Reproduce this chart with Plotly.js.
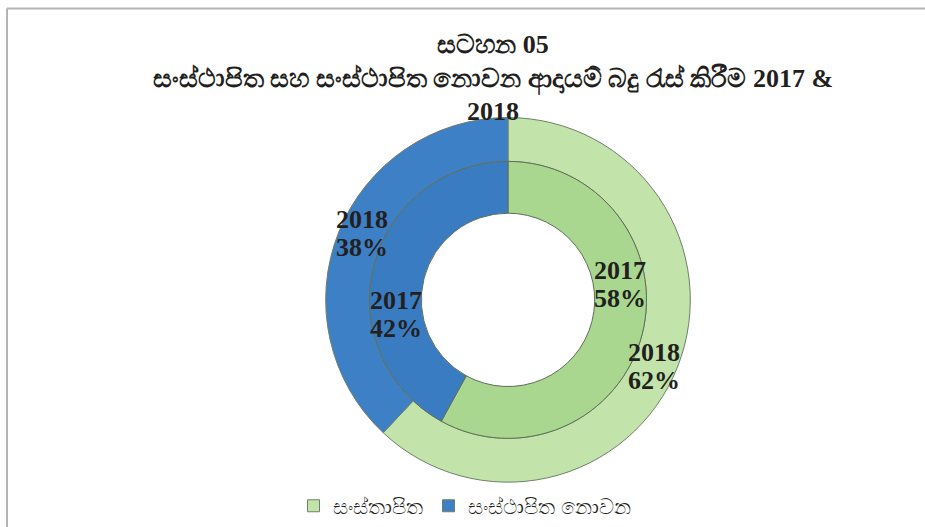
<!DOCTYPE html>
<html>
<head>
<meta charset="utf-8">
<script src="https://cdn.plot.ly/plotly-3.0.1.min.js"></script>
<style>html,body{margin:0;padding:0;background:#fff;}#chart{width:925px;height:527px;}</style>
</head>
<body>
<div id="chart"></div>
<script>
// Data
const categories = ["සංස්තාපිත", "සංස්ථාපිත නොවන"];
const years = ["2017", "2018"];
const values2017 = [58, 42];
const values2018 = [62, 38];
const titleLines = ["සටහන 05", "සංස්ථාපිත සහ සංස්ථාපිත නොවන ආදායම් බදු රැස් කිරීම 2017 &", "2018"];

// Geometry / style (pixels in a 925x527 figure with zero margins)
const W = 925, H = 527;
const cx = 508, cy = 301;
const outerR = 183, outerHoleR = 139, innerR = 139, innerHoleR = 87;
const outerLabelOffset = 3, innerLabelOffset = -22; // degrees
const lineHalfGap = 14; // px between the two label lines / 2
const serif = "Liberation Serif, Times New Roman, serif";
const labelFont = {family: serif, size: 26, color: "#231f20", weight: "bold"};

function domainFor(r) {
  return {x: [(cx - r) / W, (cx + r) / W], y: [1 - (cy + r) / H, 1 - (cy - r) / H]};
}

function ringLabels(values, year, radius, offsetDeg) {
  const total = values.reduce((a, b) => a + b, 0);
  let cum = 0;
  const out = [];
  values.forEach(v => {
    const mid = (cum + v / 2) / total;
    cum += v;
    const th = (mid * 360 + offsetDeg) * Math.PI / 180;
    const px = cx + radius * Math.sin(th);
    const py = cy - radius * Math.cos(th);
    const base = {
      x: px / W, y: 1 - py / H, xref: "paper", yref: "paper",
      showarrow: false, font: labelFont, align: "center",
      xanchor: "center", yanchor: "middle"
    };
    out.push(Object.assign({}, base, {text: year, yshift: lineHalfGap}));
    out.push(Object.assign({}, base, {text: Math.round(v / total * 100) + "%", yshift: -lineHalfGap}));
  });
  return out;
}

const outer = {
  type: "pie",
  labels: categories,
  values: values2018,
  hole: outerHoleR / outerR,
  sort: false,
  direction: "clockwise",
  rotation: 0,
  domain: domainFor(outerR),
  marker: {colors: ["#c2e4ab", "#3d80c6"], line: {color: "#6f7f6a", width: 1}},
  textinfo: "none",
  hoverinfo: "label+value+percent",
  showlegend: true
};
const inner = {
  type: "pie",
  labels: categories,
  values: values2017,
  hole: innerHoleR / innerR,
  sort: false,
  direction: "clockwise",
  rotation: 0,
  domain: domainFor(innerR),
  marker: {colors: ["#a9d78f", "#3a7cc2"], line: {color: "#5f6f58", width: 1}},
  textinfo: "none",
  hoverinfo: "label+value+percent",
  showlegend: false
};

const annotations = []
  .concat(ringLabels(values2018, years[1], (outerR + outerHoleR) / 2, outerLabelOffset))
  .concat(ringLabels(values2017, years[0], (innerR + innerHoleR) / 2, innerLabelOffset));

const layout = {
  width: W, height: H,
  margin: {l: 0, r: 0, t: 0, b: 0},
  paper_bgcolor: "#ffffff",
  plot_bgcolor: "#ffffff",
  title: {
    text: "<b>" + titleLines.join("<br>") + "</b>",
    font: {family: serif, size: 26, color: "#231f20"},
    x: 493 / W, xanchor: "center", y: 0.9, yanchor: "middle"
  },
  annotations: annotations,
  legend: {
    orientation: "h", x: 0.5027, xanchor: "center", y: 0.036, yanchor: "middle",
    font: {family: "Noto Sans, Liberation Serif, serif", size: 21, color: "#231f20"},
    itemwidth: 30
  },
  shapes: [
    {type: "line", xref: "paper", yref: "paper", x0: 7 / W, x1: 1.01, y0: 1 - 8.5 / H, y1: 1 - 8.5 / H, line: {color: "#b4b4b4", width: 2}},
    {type: "line", xref: "paper", yref: "paper", x0: 7 / W, x1: 7 / W, y0: -0.01, y1: 1 - 8.5 / H, line: {color: "#b4b4b4", width: 2}}
  ]
};

Plotly.newPlot("chart", [outer, inner], layout, {displayModeBar: false, staticPlot: true});
</script>
</body>
</html>
